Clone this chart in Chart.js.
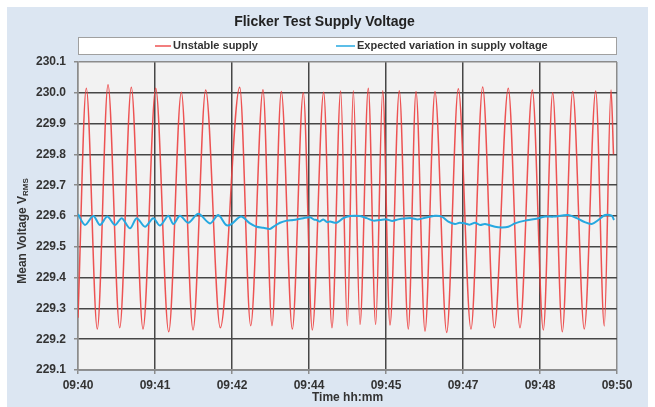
<!DOCTYPE html>
<html><head><meta charset="utf-8">
<script src="https://cdn.jsdelivr.net/npm/chart.js@4"></script>
<style>
html,body{margin:0;padding:0;background:#fff;}
#wrap{position:absolute;left:7px;top:7px;width:641px;height:400px;background:#dce6f2;}
canvas{display:block;}
</style></head><body>
<div id="wrap"><canvas id="c" width="641" height="400"></canvas></div>
<script>
const chartTitle = 'Flicker Test Supply Voltage';
const seriesNames = ['Unstable supply', 'Expected variation in supply voltage'];
const xAxisTitle = 'Time hh:mm';
const yAxisTitleMain = 'Mean Voltage V';
const yAxisTitleSub = 'RMS';

// x positions in minutes after 09:40
const xTickMinutes = [0, 1.4286, 2.8571, 4.2857, 5.7143, 7.1429, 8.5714, 10];
const xTickLabels = ['09:40', '09:41', '09:42', '09:44', '09:45', '09:47', '09:48', '09:50'];
const yTickValues = [229.1, 229.2, 229.3, 229.4, 229.5, 229.6, 229.7, 229.8, 229.9, 230.0, 230.1];

// Unstable supply: turning points
const redTimes = [0, 0.154, 0.358, 0.557, 0.774, 0.989, 1.206, 1.442, 1.683, 1.917, 2.134, 2.369, 2.640,
  3.000, 3.204, 3.432, 3.599, 3.772, 3.976, 4.180, 4.347, 4.558, 4.712, 4.874, 4.996, 5.108, 5.232,
  5.386, 5.523, 5.653, 5.788, 5.961, 6.128, 6.271, 6.438, 6.623, 6.840, 7.056, 7.291, 7.508, 7.724,
  7.983, 8.200, 8.429, 8.633, 8.807, 8.985, 9.178, 9.393, 9.605, 9.764, 9.889, 9.935];
const redValues = [229.27, 230.015, 229.233, 230.026, 229.237, 230.018, 229.233, 230.015, 229.224, 230.002, 229.230, 230.009, 229.237,
  230.018, 229.244, 230.010, 229.244, 230.004, 229.233, 230.000, 229.230, 230.002, 229.237, 230.006, 229.244, 230.007, 229.248,
  230.015, 229.248, 230.007, 229.246, 230.007, 229.233, 230.004, 229.226, 230.004, 229.222, 230.013, 229.233, 230.019, 229.237,
  230.015, 229.237, 230.009, 229.230, 230.000, 229.224, 230.004, 229.233, 230.006, 229.243, 230.009, 229.80];

// Expected variation in supply voltage
const blueTimes = [0, 0.130, 0.284, 0.408, 0.544, 0.686, 0.811, 0.965, 1.089, 1.243, 1.397, 1.521, 1.675, 1.768,
  1.892, 2.046, 2.232, 2.449, 2.603, 2.746, 2.839, 3.024, 3.191, 3.315, 3.438, 3.562, 3.623, 3.748, 3.872,
  3.994, 4.180, 4.304, 4.380, 4.429, 4.480, 4.551, 4.620, 4.675, 4.800, 4.922, 5.046, 5.232, 5.356, 5.479,
  5.603, 5.727, 5.830, 5.942, 6.050, 6.191, 6.300, 6.438, 6.623, 6.748, 6.870, 6.994, 7.080, 7.180, 7.270,
  7.365, 7.460, 7.551, 7.737, 7.861, 7.983, 8.108, 8.293, 8.479, 8.664, 8.818, 9.096, 9.252, 9.375, 9.531,
  9.653, 9.777, 9.902, 9.944];
const blueValues = [229.606, 229.571, 229.600, 229.571, 229.598, 229.571, 229.593, 229.560, 229.593, 229.565, 229.593, 229.569, 229.601, 229.574,
  229.601, 229.578, 229.607, 229.576, 229.603, 229.571, 229.573, 229.598, 229.576, 229.565, 229.562, 229.558, 229.565, 229.578, 229.585,
  229.587, 229.593, 229.596, 229.588, 229.587, 229.582, 229.589, 229.580, 229.582, 229.578, 229.593, 229.600, 229.600, 229.593, 229.585,
  229.587, 229.589, 229.584, 229.589, 229.592, 229.593, 229.589, 229.594, 229.601, 229.598, 229.582, 229.574, 229.578, 229.576, 229.572,
  229.578, 229.571, 229.574, 229.565, 229.563, 229.565, 229.576, 229.585, 229.590, 229.598, 229.598, 229.603, 229.593, 229.582, 229.574,
  229.587, 229.603, 229.601, 229.587];

const FONT = '"Liberation Sans", Arial, sans-serif';
const RED = 'rgba(236,64,64,0.9)';
const BLUE = 'rgb(38,168,224)';

const plotBg = {
  id: 'plotBg',
  beforeDraw(chart) {
    const {ctx, chartArea: a} = chart;
    ctx.save();
    ctx.fillStyle = '#f2f2f2';
    ctx.fillRect(a.left, a.top, a.width, a.height);
    ctx.restore();
  }
};

const legendBox = {
  id: 'legendBox',
  afterDraw(chart) {
    const {ctx, chartArea: a} = chart;
    const top = 30, h = 17;
    ctx.save();
    ctx.fillStyle = '#ffffff';
    ctx.fillRect(a.left, top, a.width, h);
    ctx.strokeStyle = '#a0a0a0';
    ctx.lineWidth = 1;
    ctx.strokeRect(Math.round(a.left) + 0.5, top + 0.5, Math.round(a.width) - 1, h);
    const starts = [77, 258];
    const lens = [16, 19];
    ctx.font = 'bold 11px ' + FONT;
    ctx.textBaseline = 'middle';
    ctx.textAlign = 'left';
    chart.data.datasets.forEach((ds, i) => {
      const x0 = a.left + starts[i];
      const y = top + h / 2 + 0.5;
      ctx.strokeStyle = ds.borderColor;
      ctx.lineWidth = 1.5;
      ctx.beginPath(); ctx.moveTo(x0, y); ctx.lineTo(x0 + lens[i], y); ctx.stroke();
      ctx.fillStyle = '#333333';
      ctx.fillText(ds.label, x0 + lens[i] + 2, y);
    });
    ctx.restore();
  }
};

const yTitle = {
  id: 'yTitle',
  afterDraw(chart) {
    const {ctx} = chart;
    ctx.save();
    ctx.translate(16, 224);
    ctx.rotate(-Math.PI / 2);
    const fMain = 'bold 12px ' + FONT, fSub = 'bold 8px ' + FONT;
    ctx.font = fMain; const w1 = ctx.measureText(yAxisTitleMain).width;
    ctx.font = fSub; const w2 = ctx.measureText(yAxisTitleSub).width;
    const x0 = -(w1 + w2) / 2;
    ctx.fillStyle = '#333333';
    ctx.textBaseline = 'middle';
    ctx.textAlign = 'left';
    ctx.font = fMain; ctx.fillText(yAxisTitleMain, x0, 0);
    ctx.font = fSub; ctx.fillText(yAxisTitleSub, x0 + w1, 2.5);
    ctx.restore();
  }
};

const gridDark = '#474747', gridEdge = '#8c8c8c';

new Chart(document.getElementById('c'), {
  type: 'line',
  data: {
    datasets: [
      { label: seriesNames[0], data: redTimes.map((t, i) => ({x: t, y: redValues[i]})),
        borderColor: RED, borderWidth: 1.5, pointRadius: 0, cubicInterpolationMode: 'monotone', order: 2 },
      { label: seriesNames[1], data: blueTimes.map((t, i) => ({x: t, y: blueValues[i]})),
        borderColor: BLUE, borderWidth: 2, pointRadius: 0, tension: 0.3, order: 1 }
    ]
  },
  options: {
    responsive: false,
    devicePixelRatio: 1,
    animation: false,
    layout: { padding: { left: 25, right: 31, top: 0, bottom: 0 } },
    plugins: {
      legend: { display: false },
      tooltip: { enabled: false },
      title: { display: true, text: chartTitle, color: '#222222',
        font: { family: FONT, size: 14, weight: 'bold' }, padding: { top: 7, bottom: 31.2 } }
    },
    scales: {
      x: {
        type: 'linear', min: 0, max: 10,
        afterBuildTicks: s => { s.ticks = xTickMinutes.map(v => ({value: v})); },
        afterFit: s => { s.height = 37; },
        ticks: { callback: (v, i) => xTickLabels[i], color: '#333333', padding: 4, maxRotation: 0, autoSkip: false,
          font: { family: FONT, size: 12, weight: 'bold' } },
        grid: { color: c => (c.index === 0 || c.index === xTickMinutes.length - 1) ? gridEdge : gridDark,
          lineWidth: 1.5, tickLength: 4, tickColor: gridEdge },
        border: { color: gridEdge, width: 1.5 },
        title: { display: true, text: xAxisTitle, color: '#333333', padding: { top: 0, bottom: 2 },
          font: { family: FONT, size: 12, weight: 'bold' } }
      },
      y: {
        min: 229.1, max: 230.1,
        afterBuildTicks: s => { s.ticks = yTickValues.map(v => ({value: v})); },
        afterFit: s => { s.width = 46; },
        ticks: { callback: v => Number(v).toFixed(1), color: '#333333', padding: 8,
          font: { family: FONT, size: 12, weight: 'bold' } },
        grid: { color: c => (c.index === yTickValues.length - 1) ? gridEdge : gridDark,
          lineWidth: 1.5, tickLength: 4, tickColor: gridEdge },
        border: { color: gridEdge, width: 1.5 }
      }
    }
  },
  plugins: [plotBg, legendBox, yTitle]
});
</script>
</body></html>
